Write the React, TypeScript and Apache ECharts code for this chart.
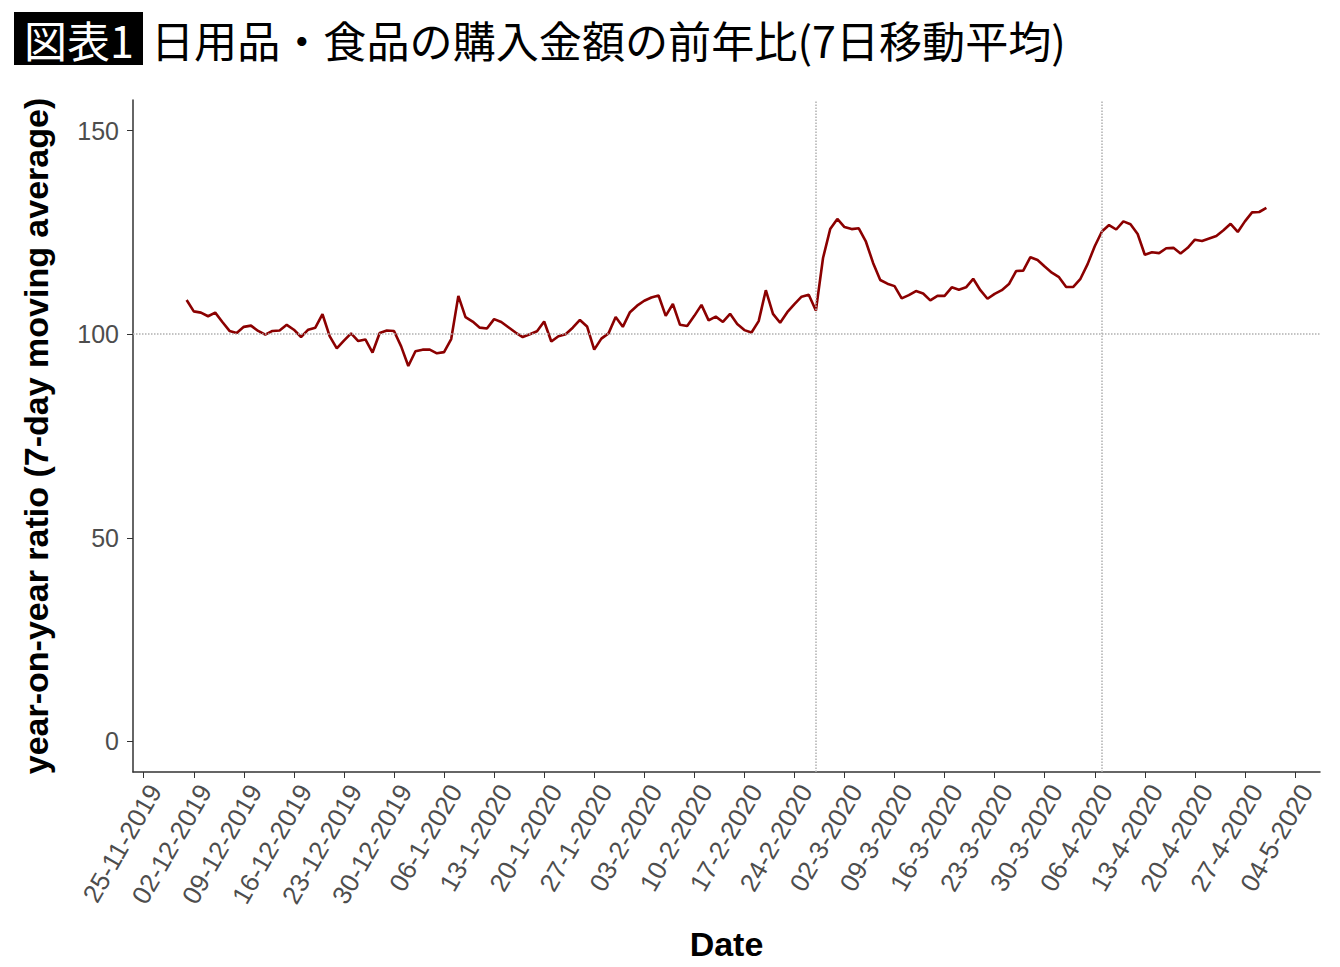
import React, { useEffect, useRef } from 'react';
import * as echarts from 'echarts';

// weekly tick labels (Mondays), first one is day 0
const tickLabels = [
  '25-11-2019', '02-12-2019', '09-12-2019', '16-12-2019', '23-12-2019', '30-12-2019',
  '06-1-2020', '13-1-2020', '20-1-2020', '27-1-2020', '03-2-2020', '10-2-2020',
  '17-2-2020', '24-2-2020', '02-3-2020', '09-3-2020', '16-3-2020', '23-3-2020',
  '30-3-2020', '06-4-2020', '13-4-2020', '20-4-2020', '27-4-2020', '04-5-2020',
];
const tickOrigin = '2019-11-25';
const firstDate = '2019-12-01';

// 7-day moving average of year-on-year ratio, daily from 2019-12-01 to 2020-04-30
const ratio = [
  108.4, 105.6, 105.3, 104.4, 105.3, 103.0, 100.8, 100.3, 101.8, 102.1,
  100.8, 99.9, 100.8, 100.9, 102.3, 101.1, 99.3, 101.1, 101.6, 104.9,
  99.5, 96.5, 98.4, 100.2, 98.3, 98.7, 95.5, 100.3, 100.9, 100.8,
  97.0, 92.2, 95.8, 96.2, 96.2, 95.3, 95.6, 98.8, 109.4, 104.2,
  103.1, 101.6, 101.4, 103.7, 103.0, 101.7, 100.4, 99.3, 100.0, 100.7,
  103.1, 98.2, 99.5, 100.0, 101.6, 103.5, 101.9, 96.2, 98.9, 100.2,
  104.2, 101.8, 105.4, 107.0, 108.2, 109.0, 109.5, 104.5, 107.4, 102.3,
  102.0, 104.5, 107.2, 103.4, 104.3, 103.0, 105.0, 102.5, 101.0, 100.4,
  103.2, 110.8, 105.0, 102.8, 105.4, 107.4, 109.2, 109.7, 105.8, 118.7,
  125.8, 128.3, 126.3, 125.8, 126.0, 122.7, 117.5, 113.3, 112.4, 111.8,
  108.8, 109.6, 110.6, 110.0, 108.3, 109.4, 109.4, 111.5, 110.9, 111.5,
  113.6, 110.8, 108.7, 109.9, 110.8, 112.3, 115.5, 115.6, 118.9, 118.2,
  116.6, 115.1, 114.0, 111.6, 111.6, 113.6, 117.2, 121.6, 125.2, 126.8,
  125.7, 127.7, 127.0, 124.6, 119.5, 120.1, 119.9, 121.1, 121.2, 119.8,
  121.2, 123.2, 122.9, 123.5, 124.1, 125.5, 127.1, 125.1, 127.7, 129.9,
  130.0, 131.0,
];

// school closure request / state of emergency
const eventDates = ['2020-02-27', '2020-04-07'];
const yTicks = [0, 50, 100, 150];

const dayOf = (d: string) =>
  Math.round((Date.parse(d + 'T00:00:00Z') - Date.parse(tickOrigin + 'T00:00:00Z')) / 86400000);

const AXIS_FONT = '"Liberation Sans", Arial, sans-serif';
const JP_FONT = '"Noto Sans CJK JP", "Noto Sans", sans-serif';

const App: React.FC = () => {
  const chartRef = useRef<HTMLDivElement>(null);

  useEffect(() => {
    if (!chartRef.current) return;
    document.body.style.margin = '0';
    const chart = echarts.init(chartRef.current, null, { renderer: 'svg' });

    const start = dayOf(firstDate);
    const lineData = ratio.map((v, i) => [start + i, v]);
    const tickDays = tickLabels.map((_, i) => i * 7);

    const option: echarts.EChartsOption = {
      animation: false,
      backgroundColor: '#fff',
      grid: { left: 133, right: 20, top: 100, bottom: 195 },
      xAxis: {
        type: 'value',
        min: -1.5,
        max: 164.5,
        name: 'Date',
        nameLocation: 'middle',
        nameGap: 155,
        nameTextStyle: { fontSize: 34, fontWeight: 'bold', color: '#000', fontFamily: AXIS_FONT },
        axisLine: { onZero: false, lineStyle: { color: '#333', width: 1.5 } },
        axisTick: { show: true, length: 6, customValues: tickDays, lineStyle: { color: '#333' } } as any,
        axisLabel: {
          customValues: tickDays,
          rotate: 60,
          margin: 8,
          align: 'right',
          verticalAlign: 'top',
          lineHeight: 26,
          fontSize: 26,
          color: '#4d4d4d',
          fontFamily: AXIS_FONT,
          formatter: (v: number) => tickLabels[Math.round(v / 7)] ?? '',
        } as any,
        splitLine: { show: false },
      },
      yAxis: {
        type: 'value',
        min: -7.5,
        max: 157.5,
        name: 'year-on-year ratio (7-day moving average)',
        nameLocation: 'middle',
        nameGap: 80,
        nameTextStyle: { fontSize: 34, fontWeight: 'bold', color: '#000', fontFamily: AXIS_FONT },
        axisLine: { show: true, onZero: false, lineStyle: { color: '#333', width: 1.5 } },
        axisTick: { show: true, length: 6, customValues: yTicks, lineStyle: { color: '#333' } } as any,
        axisLabel: {
          customValues: yTicks,
          margin: 14,
          fontSize: 25,
          color: '#4d4d4d',
          fontFamily: AXIS_FONT,
        } as any,
        splitLine: { show: false },
      },
      series: [
        {
          type: 'line',
          data: lineData,
          symbol: 'none',
          lineStyle: { color: '#8b0000', width: 2.6 },
          markLine: {
            silent: true,
            symbol: 'none',
            label: { show: false },
            lineStyle: { color: '#b0b0b0', width: 1.5, type: 'dotted' },
            data: [
              { yAxis: 100 },
              ...eventDates.map((d) => ({ xAxis: dayOf(d) })),
            ],
          },
        },
      ],
      graphic: [
        { type: 'rect', shape: { x: 14, y: 12, width: 129, height: 53 }, style: { fill: '#000' } },
        {
          type: 'text',
          x: 79,
          y: 39,
          style: {
            text: '図表1',
            fill: '#fff',
            fontSize: 43,
            fontFamily: JP_FONT,
            align: 'center',
            verticalAlign: 'middle',
          },
        },
        {
          type: 'text',
          x: 151,
          y: 39,
          style: {
            text: '日用品・食品の購入金額の前年比(7日移動平均)',
            fill: '#000',
            fontSize: 43.1,
            fontFamily: JP_FONT,
            align: 'left',
            verticalAlign: 'middle',
          },
        },
      ] as any,
    };

    chart.setOption(option);
    return () => chart.dispose();
  }, []);

  return <div ref={chartRef} style={{ width: 1340, height: 967 }} />;
};

export default App;
